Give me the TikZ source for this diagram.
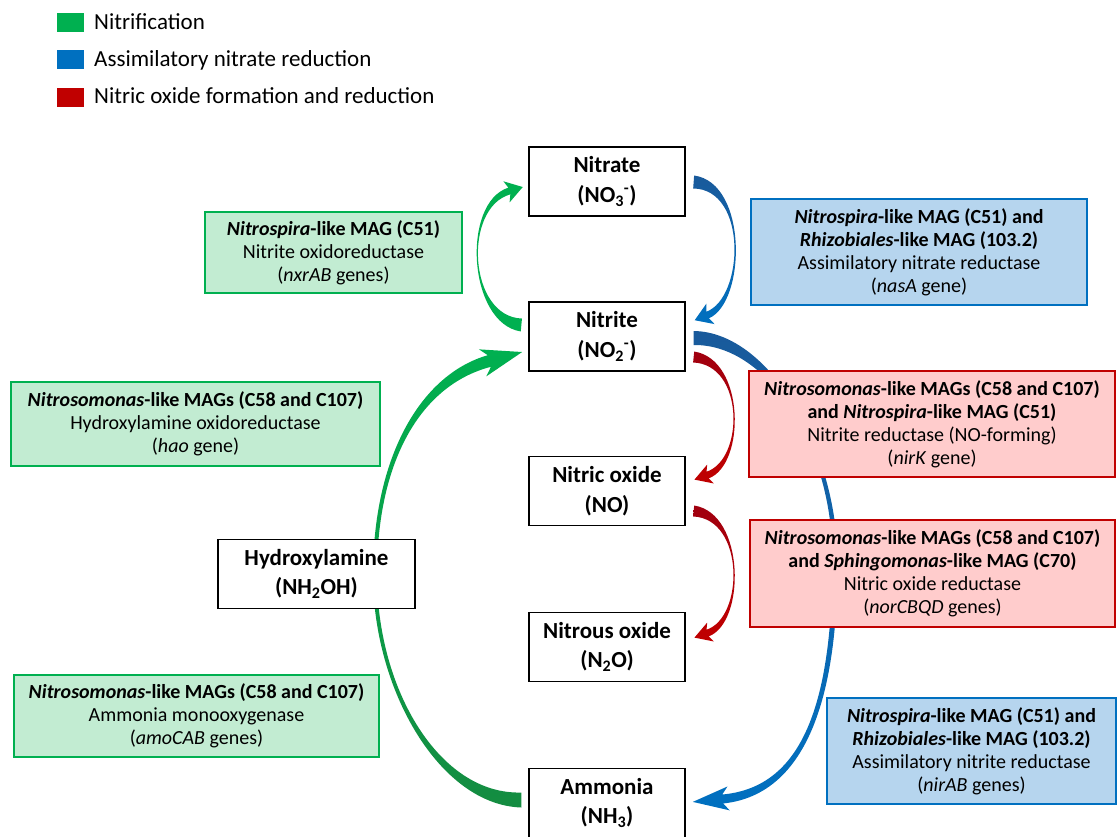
\documentclass[tikz,border=0pt]{standalone}
\usepackage{fontspec}
\setmainfont{Carlito}
\usetikzlibrary{calc}
\definecolor{cgreen}{RGB}{0,176,80}
\definecolor{cgreenD}{RGB}{20,140,65}
\definecolor{cblue}{RGB}{0,112,192}
\definecolor{cblueD}{RGB}{25,90,155}
\definecolor{cred}{RGB}{192,0,0}
\definecolor{credD}{RGB}{160,0,15}
\definecolor{fgreen}{RGB}{194,236,210}
\definecolor{fblue}{RGB}{182,213,238}
\definecolor{fred}{RGB}{255,204,204}
\pgfdeclarelayer{bg}\pgfsetlayers{bg,main}
% tapered arrow helpers
\newcommand\tapercoords[9]{%
 \coordinate (#9q0) at #1; \coordinate (#9q1) at #2;
 \coordinate (#9q2) at #3; \coordinate (#9q3) at #4;
 \coordinate (#9qa) at ($2*(#9q1)-(#9q0)$);
 \coordinate (#9qb) at ($2*(#9q2)-(#9q3)$);
 \coordinate (#9a0) at ($(#9q0)!#5!90:(#9q1)$);
 \coordinate (#9b0) at ($(#9q0)!#5!-90:(#9q1)$);
 \coordinate (#9a1) at ($(#9q1)!#6!90:(#9qa)$);
 \coordinate (#9b1) at ($(#9q1)!#6!-90:(#9qa)$);
 \coordinate (#9a2) at ($(#9q2)!#7!-90:(#9qb)$);
 \coordinate (#9b2) at ($(#9q2)!#7!90:(#9qb)$);
 \coordinate (#9a3) at ($(#9q3)!#8!-90:(#9q2)$);
 \coordinate (#9b3) at ($(#9q3)!#8!90:(#9q2)$);
}
\newcommand\headcoords[4]{%
 \coordinate (#1back) at ($(#1q3)!#4!(#1q2)$);
 \coordinate (#1tip) at ($(#1q3)!#3!180:(#1q2)$);
 \coordinate (#1ha) at ($(#1back)!#2!-90:(#1q2)$);
 \coordinate (#1hb) at ($(#1back)!#2!90:(#1q2)$);
}
\newcommand\tapfill[2]{\path[#1] (#2a0) .. controls (#2a1) and (#2a2) .. (#2a3) -- (#2ha) -- (#2tip) -- (#2hb) -- (#2b3) .. controls (#2b2) and (#2b1) .. (#2b0) -- cycle;}
\newcommand\tapfilltwo[3]{\path[#1] (#2a0) .. controls (#2a1) and (#2a2) .. (#2a3) .. controls (#3a1) and (#3a2) .. (#3a3) -- (#3ha) -- (#3tip) -- (#3hb) -- (#3b3) .. controls (#3b2) and (#3b1) .. (#3b0) -- (#2b3) .. controls (#2b2) and (#2b1) .. (#2b0) -- cycle;}
\begin{document}
\begin{tikzpicture}[x=1pt,y=-1pt,
  chem/.style={draw=black, line width=1.3pt, fill=white, minimum width=156pt, minimum height=69pt,
    align=center, inner sep=0pt, font=\bfseries\fontsize{23}{29.5}\selectfont},
  enz/.style={line width=2.4pt, align=center, inner sep=0pt, font=\fontsize{20}{23}\selectfont},
  gbox/.style={enz, draw=cgreen, fill=fgreen},
  bbox/.style={enz, draw=cblue, fill=fblue},
  rbox/.style={enz, draw=cred, fill=fred},
  legsq/.style={minimum width=27pt, minimum height=19pt, inner sep=0pt},
  legtxt/.style={anchor=base west, inner sep=0pt, font=\fontsize{23}{27}\selectfont}]
\useasboundingbox (0,0) rectangle (1118,837);
\clip (0,0) rectangle (1118,837);
% legend
\node[legsq, fill=cgreen] (lg1) at (70.5,22.5) {};
\node[legtxt] (lt1) at (94,30) {Nitrification};
\node[legsq, fill=cblue] (lg2) at (70.5,60) {};
\node[legtxt] (lt2) at (94,67) {Assimilatory nitrate reduction};
\node[legsq, fill=cred] (lg3) at (70.5,97.5) {};
\node[legtxt] (lt3) at (94,104) {Nitric oxide formation and reduction};
% compounds
\node[chem] (nitrate) at (607,181.5) {Nitrate\\(NO\textsubscript{3}\textsuperscript{-})};
\node[chem] (nitrite) at (607,336.5) {Nitrite\\(NO\textsubscript{2}\textsuperscript{-})};
\node[chem] (no) at (607,491) {Nitric oxide\\(NO)};
\node[chem] (ntwo) at (607,647) {Nitrous oxide\\(N\textsubscript{2}O)};
\node[chem] (ammonia) at (607,803) {Ammonia\\(NH\textsubscript{3})};
\node[chem, minimum width=197pt] (hyd) at (316.5,574) {Hydroxylamine\\(NH\textsubscript{2}OH)};
% enzyme boxes
\node[gbox, minimum width=257pt, minimum height=81pt] (nxr) at (333.5,252.5)
  {\textbf{\textit{Nitrospira}-like MAG (C51)}\\Nitrite oxidoreductase\\(\textit{nxrAB} genes)};
\node[gbox, minimum width=369pt, minimum height=84pt] (hao) at (195.5,424)
  {\textbf{\textit{Nitrosomonas}-like MAGs (C58 and C107)}\\Hydroxylamine oxidoreductase\\(\textit{hao} gene)};
\node[gbox, minimum width=365pt, minimum height=82pt] (amo) at (196.5,716)
  {\textbf{\textit{Nitrosomonas}-like MAGs (C58 and C107)}\\Ammonia monooxygenase\\(\textit{amoCAB} genes)};
\node[bbox, minimum width=336pt, minimum height=106pt] (nas) at (919,252)
  {\textbf{\textit{Nitrospira}-like MAG (C51) and}\\\textbf{\textit{Rhizobiales}-like MAG (103.2)}\\Assimilatory nitrate reductase\\(\textit{nasA} gene)};
\node[rbox, minimum width=366pt, minimum height=106pt] (nirk) at (932,424)
  {\textbf{\textit{Nitrosomonas}-like MAGs (C58 and C107)}\\\textbf{and \textit{Nitrospira}-like MAG (C51)}\\Nitrite reductase (NO-forming)\\(\textit{nirK} gene)};
\node[rbox, minimum width=365pt, minimum height=107pt] (nor) at (932.5,573.5)
  {\textbf{\textit{Nitrosomonas}-like MAGs (C58 and C107)}\\\textbf{and \textit{Sphingomonas}-like MAG (C70)}\\Nitric oxide reductase\\(\textit{norCBQD} genes)};
\node[bbox, minimum width=289pt, minimum height=106pt] (nir) at (971.5,751)
  {\textbf{\textit{Nitrospira}-like MAG (C51) and}\\\textbf{\textit{Rhizobiales}-like MAG (103.2)}\\Assimilatory nitrite reductase\\(\textit{nirAB} genes)};
% arrows
\begin{pgfonlayer}{bg}
% nitrite -> nitrate (green)
\tapercoords{($(nitrite.west)+(-7,-11.5)$)}{(468,320)}{(462,205)}{($(nitrate.west)+(-19,9.5)$)}{6.5pt}{3pt}{2.5pt}{3.5pt}{ga}
\headcoords{ga}{11pt}{14pt}{3pt}
\tapfill{fill=cgreen}{ga}
% nitrate -> nitrite (blue)
\tapercoords{($(nitrate.east)+(8,0.5)$)}{(748,186)}{(745,300)}{($(nitrite.east)+(22,-21.5)$)}{6.5pt}{3pt}{2.5pt}{3.5pt}{ba}
\headcoords{ba}{11pt}{14pt}{3pt}
\tapfill{top color=cblueD, bottom color=cblue}{ba}
% nitrite -> nitric oxide (red)
\tapercoords{($(nitrite.east)+(8,20.5)$)}{(745,362)}{(745,462)}{($(no.east)+(22,-16)$)}{5.5pt}{2.5pt}{2.5pt}{3.5pt}{ra}
\headcoords{ra}{10pt}{14pt}{3pt}
\tapfill{top color=credD, bottom color=cred}{ra}
% nitric oxide -> nitrous oxide (red)
\tapercoords{($(no.east)+(8,20)$)}{(745,516)}{(745,620)}{($(ntwo.east)+(22,-14)$)}{5.5pt}{2.5pt}{2.5pt}{3.5pt}{rb}
\headcoords{rb}{10pt}{14pt}{3pt}
\tapfill{top color=credD, bottom color=cred}{rb}
% ammonia -> nitrite via hydroxylamine (green)
\tapercoords{($(ammonia.west)+(-7,-3)$)}{(440,800)}{(375,690)}{(375,575)}{7.5pt}{5pt}{2pt}{2pt}{gx}
\tapercoords{(375,575)}{(375,460)}{(420,380)}{($(nitrite.west)+(-39,24.5)$)}{2pt}{2pt}{5pt}{6pt}{gy}
\headcoords{gy}{14pt}{34pt}{7pt}
\tapfilltwo{top color=cgreen, bottom color=cgreenD}{gx}{gy}
% nitrite -> ammonia (blue)
\tapercoords{($(nitrite.east)+(8,1.5)$)}{(770,338)}{(835,450)}{(835,560)}{7pt}{6pt}{2pt}{2.5pt}{bx}
\tapercoords{(835,560)}{(835,720)}{(795,792)}{($(ammonia.east)+(37,-4)$)}{2.5pt}{3pt}{4pt}{4.5pt}{by}
\headcoords{by}{12pt}{30pt}{6pt}
\tapfilltwo{top color=cblueD, bottom color=cblue}{bx}{by}
\end{pgfonlayer}
\end{tikzpicture}
\end{document}
